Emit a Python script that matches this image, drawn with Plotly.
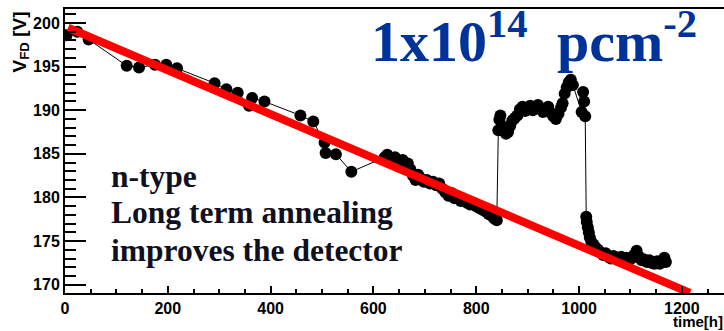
import plotly.graph_objects as go

# ---- measured depletion voltage vs. annealing time ----
time_h = [
    3, 24, 46, 120, 144, 175, 197, 218, 291, 314, 336, 358, 364, 388, 458, 483,
    505, 507, 527, 557,
    # dense run 620-840 h
    622, 627, 632, 637, 642, 647, 652, 657, 662, 667, 672, 677, 682, 687, 692,
    698, 704, 710, 716, 722, 728, 734, 740, 746, 752, 758, 764, 770, 776, 782,
    788, 794, 800, 806, 812, 818, 824, 830, 835, 840,
    # jump 843-1012 h
    843, 845, 847, 850, 854, 858, 862, 866, 870, 875, 880, 885, 890, 895, 900,
    905, 910, 915, 920, 925, 930, 935, 940, 945, 950, 955, 960, 965, 968, 972,
    976, 980, 984, 988, 1005, 1008, 1010, 1012,
    # after 1014 h
    1014, 1015, 1017, 1019, 1021, 1024, 1028, 1032, 1037, 1042, 1047, 1052,
    1057, 1062, 1067, 1072, 1077, 1082, 1087, 1092, 1097, 1102, 1107, 1112,
    1117, 1122, 1127, 1132, 1137, 1142, 1147, 1152, 1157, 1162, 1166, 1169,
]
vfd_V = [
    198.6, 199.0, 198.1, 195.1, 194.9, 195.2, 195.2, 194.8, 193.1, 192.4, 192.0,
    190.5, 191.4, 191.0, 189.4, 188.7, 186.3, 185.1, 184.95, 182.95,
    184.6, 184.9, 184.5, 184.3, 184.6, 184.2, 184.0, 184.3, 183.8, 183.9, 183.2,
    182.5, 182.0, 182.6, 182.2, 181.8, 182.0, 181.6, 181.8, 181.4, 181.6, 181.0,
    180.6, 180.2, 180.5, 179.9, 180.1, 179.6, 179.8, 179.4, 179.2, 179.4, 179.0,
    178.8, 178.6, 178.4, 178.1, 177.9, 177.6, 177.4,
    187.7, 188.9, 189.4, 188.2, 187.6, 187.3, 187.5, 188.2, 188.8, 189.1, 189.4,
    190.1, 190.4, 189.9, 190.2, 190.5, 190.0, 190.3, 190.6, 190.1, 189.8, 190.0,
    190.4, 189.7, 189.3, 189.0, 189.6, 190.3, 190.8, 191.9, 192.6, 193.2, 193.5,
    192.9, 189.8, 192.1, 191.0, 189.3,
    177.8, 177.2, 176.6, 176.0, 175.4, 174.9, 174.6, 174.3, 174.0, 173.7, 173.4,
    173.6, 173.2, 173.0, 173.3, 173.0, 172.8, 173.2, 172.9, 173.1, 172.8, 173.0,
    173.4, 173.9, 173.2, 172.8, 172.9, 172.6, 172.8, 172.5, 172.4, 172.7, 172.4,
    172.6, 173.1, 172.6,
]

# linear fit drawn across the run
fit_t = [6, 1216]
fit_v = [199.45, 169.05]

x_ticks = [0, 200, 400, 600, 800, 1000, 1200]
y_ticks = [170, 175, 180, 185, 190, 195, 200]

# ---- canvas geometry ----
W, H = 724, 331
ML, MR, MT, MB = 65, 0, 9, 38
PW, PH = W - ML - MR, H - MT - MB


def fx(px):
    return (px - ML) / PW


def fy(py):
    return (H - MB - py) / PH


fig = go.Figure()

fig.add_trace(go.Scatter(
    x=time_h, y=vfd_V, mode="lines+markers",
    line=dict(color="black", width=1),
    marker=dict(color="black", size=12, line=dict(width=0)),
    showlegend=False,
))

fig.add_trace(go.Scatter(
    x=fit_t, y=fit_v, mode="lines",
    line=dict(color="#ff0000", width=8),
    showlegend=False,
))

tick_font = dict(family="Liberation Sans", size=16, color="black", weight="bold")

fig.update_xaxes(
    range=[0, 1282], tickvals=x_ticks, ticktext=[f"<b>{v}</b>" for v in x_ticks],
    ticks="inside", ticklen=7, tickwidth=2,
    tickcolor="black", showline=True, linecolor="black", linewidth=2,
    mirror=True, showgrid=False, zeroline=False, tickfont=tick_font,
    minor=dict(ticks="inside", ticklen=4, tickwidth=1.5, tickcolor="black", dtick=50),
)
fig.update_yaxes(
    range=[169.05, 201.6], tickvals=y_ticks, ticktext=[f"<b>{v}</b>" for v in y_ticks],
    ticks="inside", ticklen=21, tickwidth=2,
    tickcolor="black", showline=True, linecolor="black", linewidth=2,
    showgrid=False, zeroline=False, tickfont=tick_font,
    minor=dict(ticks="inside", ticklen=11, tickwidth=1.5, tickcolor="black", dtick=1),
)

title_font = dict(family="Liberation Serif", size=58, color="#003399", weight="bold")
note_font = dict(family="Liberation Serif", size=31.5, color="#10101e", weight="bold")

annotations = [
    dict(text="1x10<sup>14</sup>", x=fx(369), y=fy(38), xanchor="left", yanchor="middle",
         font=title_font),
    dict(text="pcm<sup>-2</sup>", x=fx(555), y=fy(38), xanchor="left", yanchor="middle",
         font=title_font),
    dict(text="n-type", x=fx(109), y=fy(176), xanchor="left", yanchor="middle",
         font=note_font),
    dict(text="Long term annealing", x=fx(109), y=fy(213), xanchor="left",
         yanchor="middle", font=note_font),
    dict(text="improves the detector", x=fx(109), y=fy(250), xanchor="left",
         yanchor="middle", font=note_font),
    dict(text="<b>V<sub>FD</sub> [V]</b>", x=fx(20), y=fy(10), xanchor="center",
         yanchor="top", textangle=-90,
         font=dict(family="Liberation Sans", size=19, color="black", weight="bold")),
    dict(text="<b>time[h]</b>", x=1.0, y=fy(331), xanchor="right", yanchor="bottom",
         borderpad=0,
         font=dict(family="Liberation Sans", size=15, color="black", weight="bold")),
]
for a in annotations:
    a.update(xref="paper", yref="paper", showarrow=False)

fig.update_layout(
    width=W, height=H, margin=dict(l=ML, r=MR, t=MT, b=MB, pad=0),
    paper_bgcolor="white", plot_bgcolor="white",
    annotations=annotations,
)

fig.write_html("out.html")
